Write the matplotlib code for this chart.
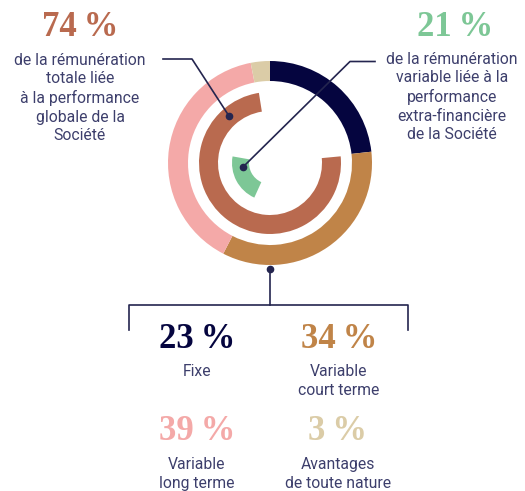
import matplotlib
matplotlib.use("Agg")
import matplotlib.pyplot as plt

# remuneration breakdown (outer ring)
categories = ["Fixe", "Variable\ncourt terme", "Variable\nlong terme", "Avantages\nde toute nature"]
shares = [23, 34, 39, 3]
share_colors = ["#05053f", "#c08448", "#f4a9a8", "#dbcca7"]

# performance-linked shares (inner rings)
perf_global = 74
perf_extra = 21
perf_global_text = "de la rémunération\ntotale liée\nà la performance\nglobale de la\nSociété"
perf_extra_text = "de la rémunération\nvariable liée à la\nperformance\nextra-financière\nde la Société"

W, H = 525, 491
TXT = "#3d3f6c"
LINE = "#24254f"
BROWN = "#b96a4f"
GREEN = "#7dc796"


def Y(y):
    return H - y


fig = plt.figure(figsize=(W / 100, H / 100), dpi=100)
ax = fig.add_axes([0, 0, 1, 1])
cx, cy = 270, Y(163)

ax.pie(shares, colors=share_colors, startangle=90, counterclock=False,
       radius=102, center=(cx, cy), wedgeprops=dict(width=20, linewidth=0))
ax.pie([perf_global, 100 - perf_global], colors=[BROWN, "none"], startangle=99,
       counterclock=True, radius=71, center=(cx, cy), wedgeprops=dict(width=19, linewidth=0))
ax.pie([perf_extra, 100 - perf_extra], colors=[GREEN, "none"], startangle=170,
       counterclock=True, radius=38, center=(cx, cy), wedgeprops=dict(width=17, linewidth=0))

ax.set_xlim(0, W)
ax.set_ylim(0, H)
ax.set_aspect("equal")
ax.axis("off")

# leader lines
ax.plot([163, 192, 229], [Y(59), Y(59), Y(116)], color=LINE, lw=1.2)
ax.plot([229], [Y(116)], "o", color=LINE, ms=4.5)
ax.plot([375, 350, 243], [Y(61.5), Y(61.5), Y(167)], color=LINE, lw=1.2)
ax.plot([243], [Y(167)], "o", color=LINE, ms=4.5)
ax.plot([270, 270], [Y(269), Y(305)], color=LINE, lw=1.2)
ax.plot([270], [Y(269)], "o", color=LINE, ms=4.5)
ax.plot([129, 129, 408, 408], [Y(330), Y(305), Y(305), Y(330)], color=LINE, lw=1.2)

num_font = dict(family="Liberation Serif", weight="bold", fontsize=25, ha="center", va="center")
body_font = dict(family="Roboto", fontsize=11.3, color=TXT, ha="center", va="center",
                 linespacing=1.3)

ax.text(80, Y(27), f"{perf_global}\u2009%", color=BROWN, **num_font)
ax.text(80, Y(98), perf_global_text, **body_font)
ax.text(455, Y(27), f"{perf_extra}\u2009%", color=GREEN, **num_font)
ax.text(452, Y(97), perf_extra_text, **body_font)

spots = [(197, 339), (339, 339), (197, 432), (338, 432)]
for (x, y), v, c, lab in zip(spots, shares, share_colors, categories):
    ax.text(x, Y(y), f"{v}\u2009%", color=c, **num_font)
    ax.text(x, Y(y + 32) if "\n" not in lab else Y(y + 42), lab, **body_font)

fig.savefig("out.png", dpi=100)
